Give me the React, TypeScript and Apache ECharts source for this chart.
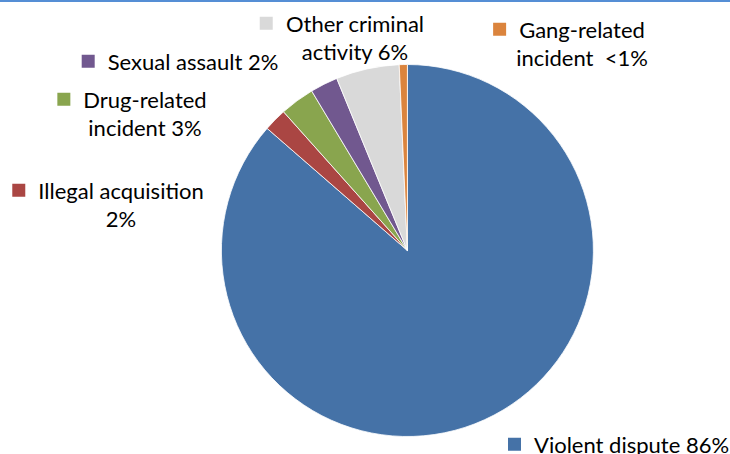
import React, { useEffect, useRef } from "react";
import * as echarts from "echarts";

const categories = [
  "Violent dispute",
  "Illegal acquisition",
  "Drug-related incident",
  "Sexual assault",
  "Other criminal activity",
  "Gang-related incident",
];
const values = [86.4, 2.0, 3.0, 2.4, 5.5, 0.7];
const labelTexts = [
  "Violent dispute 86%",
  "Illegal acquisition\n2%",
  "Drug-related\nincident 3%",
  "Sexual assault 2%",
  "Other criminal\nactivity 6%",
  "Gang-related\nincident  <1%",
];
const colors = ["#4572a7", "#aa4643", "#89a54e", "#71588f", "#d9d9d9", "#db843d"];

// label anchor positions [x, y(top of first line), align]
const labelPos: [number, number, string][] = [
  [508, 430, "left"],
  [108, 176, "center"],
  [132, 85, "center"],
  [180, 47, "center"],
  [342, 9, "center"],
  [569, 15, "center"],
];

const FONT = "Lato";
const FS = 22;
const LH = 28.5;

export default function App() {
  const ref = useRef<HTMLDivElement>(null);
  useEffect(() => {
    if (!ref.current) return;
    const chart = echarts.init(ref.current, null, { renderer: "svg" });
    const data = categories.map((name, i) => ({
      name,
      value: values[i],
      itemStyle: { color: colors[i] },
      label: {
        rich: {
          m: { width: 13, height: 13, backgroundColor: colors[i] },
          g: { width: 13, height: 13 },
          s: { width: 26, height: 13 },
          t: { fontFamily: FONT, fontSize: FS, color: "#000", lineHeight: LH },
        },
      },
    }));
    chart.setOption({
      animation: false,
      backgroundColor: "#fff",
      graphic: [
        {
          type: "rect",
          left: 0,
          top: 0,
          shape: { width: 730, height: 2 },
          style: { fill: "#558ed5" },
        },
      ],
      series: [
        {
          type: "pie",
          center: [407.4, 250.5],
          radius: 186,
          startAngle: 90,
          clockwise: true,
          avoidLabelOverlap: false,
          itemStyle: { borderColor: "#fff", borderWidth: 0.8 },
          label: {
            show: true,
            position: "outside",
            lineHeight: LH,
            fontFamily: FONT,
            fontSize: FS,
            color: "#000",
            formatter: (p: any) => {
              const lines = labelTexts[p.dataIndex].split("\n");
              let s = `{m|}{g|}{t|${lines[0]}}`;
              if (lines.length > 1) s += `\n{s|}{t|${lines[1]}}`;
              return s;
            },
          },
          labelLine: { show: false },
          labelLayout: (params: any) => {
            const p = labelPos[params.dataIndex];
            return { x: p[0], y: p[1], align: p[2], verticalAlign: "top" };
          },
          emphasis: { disabled: true },
          data,
        },
      ],
    });
    return () => chart.dispose();
  }, []);
  return (
    <div
      ref={ref}
      style={{ position: "absolute", left: 0, top: 0, width: 730, height: 454 }}
    />
  );
}
